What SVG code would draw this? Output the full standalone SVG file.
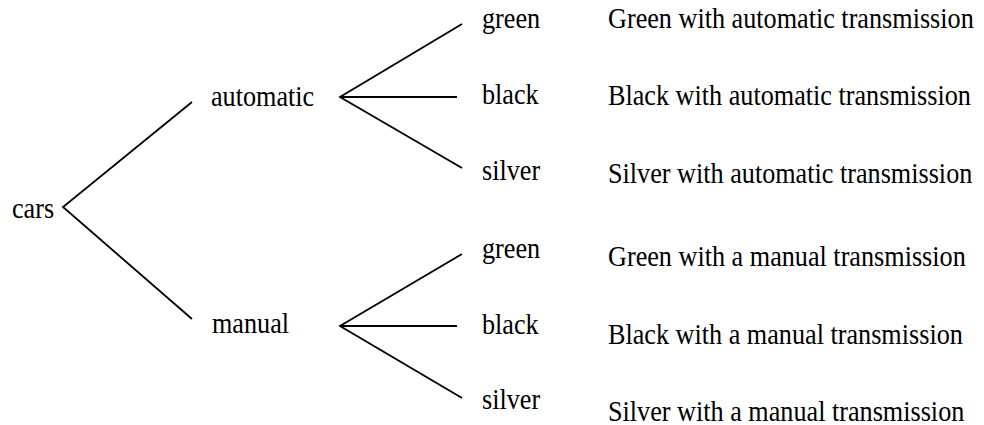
<svg xmlns="http://www.w3.org/2000/svg" width="984" height="425" viewBox="0 0 984 425">
  <style>
    .lbl { font-family: "Liberation Serif", "Times New Roman", serif; font-size: 26.2px; fill: #000; }
    .edge { stroke: #000; stroke-width: 1.8; fill: none; stroke-linecap: butt; }
  </style>
  <rect width="984" height="425" fill="#fff"/>

  <!-- tree branches -->
  <g id="connectors">
    <path class="edge" d="M192,102 L63,207 L192,319"/>
    <path class="edge" d="M462,24 L340,97 L462,168 M340,97 L457,97"/>
    <path class="edge" d="M462,254 L340,326 L462,398 M340,326 L457,326"/>
  </g>

  <!-- root -->
  <g id="cars"><text class="lbl" transform="translate(12,218) scale(1,1.12)">cars</text></g>

  <!-- transmission level -->
  <g id="automatic"><text class="lbl" transform="translate(211,106) scale(1,1.12)">automatic</text></g>
  <g id="manual"><text class="lbl" transform="translate(212,333) scale(1,1.12)">manual</text></g>

  <!-- colour level -->
  <g id="auto-green"><text class="lbl" transform="translate(482,28) scale(1,1.12)">green</text></g>
  <g id="auto-black"><text class="lbl" transform="translate(482,104) scale(1,1.12)">black</text></g>
  <g id="auto-silver"><text class="lbl" transform="translate(482,180) scale(1,1.12)">silver</text></g>
  <g id="man-green"><text class="lbl" transform="translate(482,258) scale(1,1.12)">green</text></g>
  <g id="man-black"><text class="lbl" transform="translate(482,334) scale(1,1.12)">black</text></g>
  <g id="man-silver"><text class="lbl" transform="translate(482,409) scale(1,1.12)">silver</text></g>

  <!-- outcomes -->
  <g id="out-1"><text class="lbl" transform="translate(608,28) scale(1,1.12)">Green with automatic transmission</text></g>
  <g id="out-2"><text class="lbl" transform="translate(608,105) scale(1,1.12)">Black with automatic transmission</text></g>
  <g id="out-3"><text class="lbl" transform="translate(608,183) scale(1,1.12)">Silver with automatic transmission</text></g>
  <g id="out-4"><text class="lbl" transform="translate(608,266) scale(1,1.12)">Green with a manual transmission</text></g>
  <g id="out-5"><text class="lbl" transform="translate(608,344) scale(1,1.12)">Black with a manual transmission</text></g>
  <g id="out-6"><text class="lbl" transform="translate(608,421) scale(1,1.12)">Silver with a manual transmission</text></g>
</svg>
